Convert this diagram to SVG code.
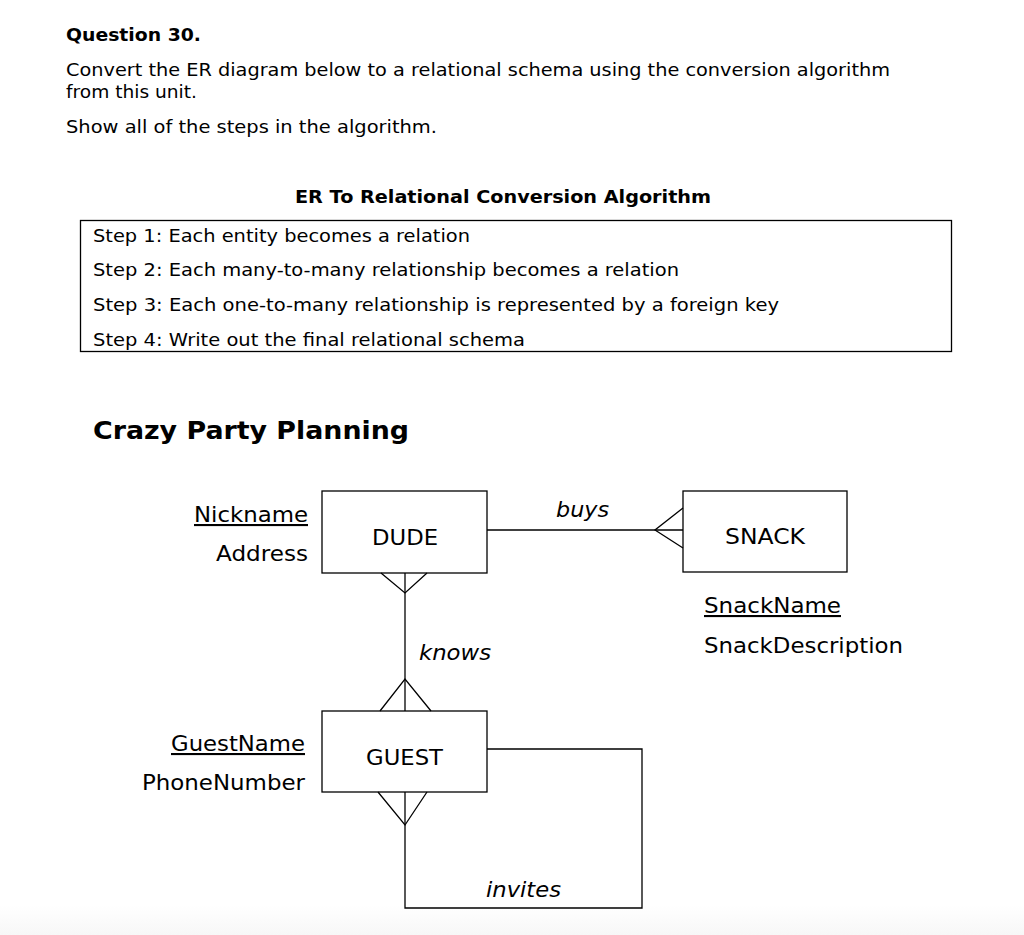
<svg xmlns="http://www.w3.org/2000/svg" width="1024" height="935" viewBox="0 0 1024 935">
<defs>
<linearGradient id="bg" x1="0" y1="0" x2="0" y2="1">
<stop offset="0" stop-color="#ffffff"/>
<stop offset="1" stop-color="#f7f7f7"/>
</linearGradient>
</defs>
<style>
text{font-family:"DejaVu Sans","Verdana",sans-serif;fill:#000}
.q{font-size:17.5px}
.b{font-weight:bold}
.st{font-size:17px}
.ent{font-size:21px}
.att{font-size:21px}
.rel{font-size:21px;font-style:italic}
.box{fill:none;stroke:#000;stroke-width:1.3}
.ln{fill:none;stroke:#000;stroke-width:1.3}
.u{text-decoration:underline}
</style>
<rect width="1024" height="935" fill="#fff"/>
<rect x="0" y="905" width="1024" height="30" fill="url(#bg)"/>
<g id="header">
<text class="q b" x="66" y="41" textLength="135" lengthAdjust="spacingAndGlyphs">Question 30.</text>
<text class="q" x="66" y="76" textLength="824" lengthAdjust="spacingAndGlyphs">Convert the ER diagram below to a relational schema using the conversion algorithm</text>
<text class="q" x="66" y="98" textLength="131" lengthAdjust="spacingAndGlyphs">from this unit.</text>
<text class="q" x="66" y="133" textLength="371" lengthAdjust="spacingAndGlyphs">Show all of the steps in the algorithm.</text>
</g>
<g id="algorithm">
<text class="st b" x="295" y="203" textLength="416" lengthAdjust="spacingAndGlyphs">ER To Relational Conversion Algorithm</text>
<rect x="80.5" y="220.5" width="871" height="131" fill="none" stroke="#000" stroke-width="1.3"/>
<text class="st" x="93" y="242" textLength="377" lengthAdjust="spacingAndGlyphs">Step 1: Each entity becomes a relation</text>
<text class="st" x="93" y="276" textLength="586" lengthAdjust="spacingAndGlyphs">Step 2: Each many-to-many relationship becomes a relation</text>
<text class="st" x="93" y="311" textLength="686" lengthAdjust="spacingAndGlyphs">Step 3: Each one-to-many relationship is represented by a foreign key</text>
<text class="st" x="93" y="346" textLength="432" lengthAdjust="spacingAndGlyphs">Step 4: Write out the final relational schema</text>
</g>
<text class="b" x="93" y="439" font-size="25" textLength="316" lengthAdjust="spacingAndGlyphs">Crazy Party Planning</text>
<g id="connectors">
<line class="ln" x1="487" y1="530" x2="683" y2="530"/>
<polyline class="ln" points="683,508 655,530 683,548"/>
<line class="ln" x1="405" y1="573" x2="405" y2="711"/>
<polyline class="ln" points="381,573 405,593 427,573"/>
<polyline class="ln" points="380,711 405,679 431,711"/>
<polyline class="ln" points="487,749 642,749 642,908 405,908 405,792"/>
<polyline class="ln" points="378,792 405,825 427,792"/>
<text class="rel" x="556" y="517" textLength="53" lengthAdjust="spacingAndGlyphs">buys</text>
<text class="rel" x="419" y="660" textLength="72" lengthAdjust="spacingAndGlyphs">knows</text>
<text class="rel" x="486" y="897" textLength="75" lengthAdjust="spacingAndGlyphs">invites</text>
</g>
<g id="dude">
<rect class="box" x="322" y="491" width="165" height="82"/>
<text class="ent" x="372" y="545" textLength="66" lengthAdjust="spacingAndGlyphs">DUDE</text>
<text class="att u" x="194" y="522" textLength="114" lengthAdjust="spacingAndGlyphs">Nickname</text>
<text class="att" x="216" y="561" textLength="92" lengthAdjust="spacingAndGlyphs">Address</text>
</g>
<g id="snack">
<rect class="box" x="683" y="491" width="164" height="81"/>
<text class="ent" x="725" y="544" textLength="80" lengthAdjust="spacingAndGlyphs">SNACK</text>
<text class="att u" x="704" y="613" textLength="137" lengthAdjust="spacingAndGlyphs">SnackName</text>
<text class="att" x="704" y="653" textLength="199" lengthAdjust="spacingAndGlyphs">SnackDescription</text>
</g>
<g id="guest">
<rect class="box" x="322" y="711" width="165" height="81"/>
<text class="ent" x="366" y="765" textLength="77" lengthAdjust="spacingAndGlyphs">GUEST</text>
<text class="att u" x="171" y="751" textLength="134" lengthAdjust="spacingAndGlyphs">GuestName</text>
<text class="att" x="142" y="790" textLength="163" lengthAdjust="spacingAndGlyphs">PhoneNumber</text>
</g>
</svg>
